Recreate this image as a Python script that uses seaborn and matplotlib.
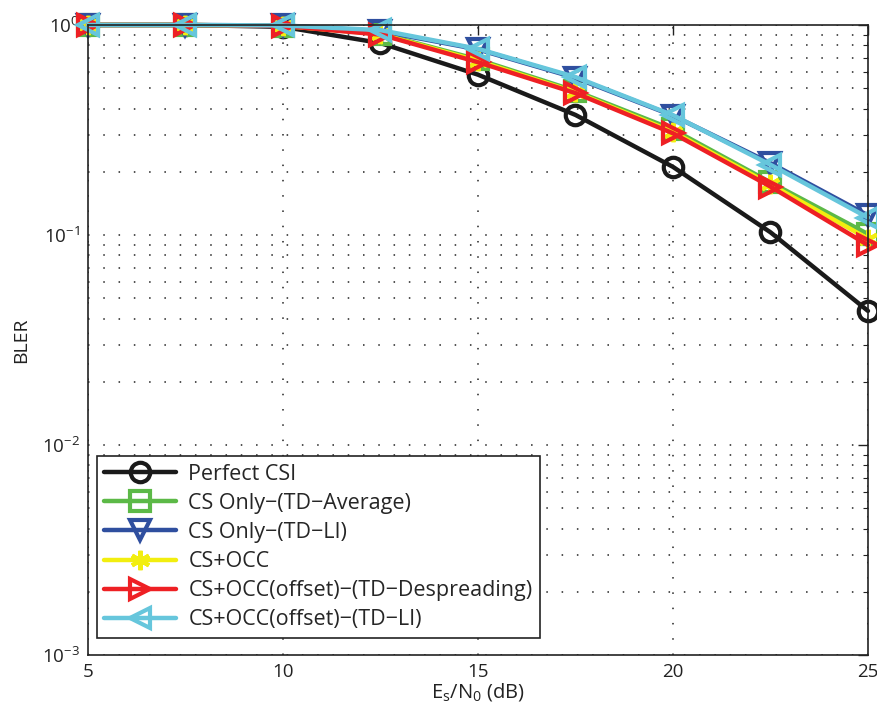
import numpy as np
import pandas as pd
import matplotlib
matplotlib.use("Agg")
import matplotlib.pyplot as plt
import seaborn as sns
from matplotlib.ticker import LogLocator, NullFormatter, MultipleLocator

# SNR points (dB)
snr_db = [5, 7.5, 10, 12.5, 15, 17.5, 20, 22.5, 25]

# BLER per channel-estimation scheme
bler_perfect = [1.0, 1.0, 0.98, 0.82, 0.58, 0.373, 0.211, 0.103, 0.0435]
bler_cs_avg = [1.0, 1.0, 0.99, 0.91, 0.685, 0.485, 0.318, 0.178, 0.101]
bler_cs_li = [1.0, 1.0, 0.995, 0.935, 0.765, 0.56, 0.37, 0.22, 0.124]
bler_occ = [1.0, 1.0, 0.99, 0.905, 0.675, 0.478, 0.31, 0.174, 0.096]
bler_occ_desp = [1.0, 1.0, 0.99, 0.90, 0.665, 0.474, 0.305, 0.17, 0.0895]
bler_occ_li = [1.0, 1.0, 0.995, 0.945, 0.77, 0.565, 0.372, 0.216, 0.121]

labels = [
    "Perfect CSI",
    "CS Only\u2212(TD\u2212Average)",
    "CS Only\u2212(TD\u2212LI)",
    "CS+OCC",
    "CS+OCC(offset)\u2212(TD\u2212Despreading)",
    "CS+OCC(offset)\u2212(TD\u2212LI)",
]
series = [bler_perfect, bler_cs_avg, bler_cs_li, bler_occ, bler_occ_desp, bler_occ_li]
colors = ["#1a1a1a", "#5cb947", "#2f4f9f", "#f2ee0f", "#ee2024", "#66c6dc"]
markers = ["o", "s", "v", (6, 2, 0), ">", "<"]

sns.set_theme(style="white")
plt.rcParams["font.family"] = ["Open Sans", "DejaVu Sans"]
plt.rcParams["mathtext.fontset"] = "custom"
plt.rcParams["mathtext.rm"] = "Open Sans"

fig = plt.figure(figsize=(8.77, 7.2), dpi=100)
ax = fig.add_axes([0.1003, 0.0903, 0.8894, 0.8750])

for vals, lab, col, mk in zip(series, labels, colors, markers):
    df = pd.DataFrame({"snr": snr_db, "bler": vals})
    sns.lineplot(
        data=df, x="snr", y="bler", ax=ax, color=col, marker=mk,
        markersize=14, markerfacecolor="none", markeredgecolor=col,
        markeredgewidth=3, linewidth=3.2, label=lab, clip_on=False,
    )

ax.set_yscale("log")
ax.set_xlim(5, 25)
ax.set_ylim(1e-3, 1)
ax.xaxis.set_major_locator(MultipleLocator(5))
ax.yaxis.set_major_locator(LogLocator(base=10, numticks=10))
ax.yaxis.set_minor_locator(LogLocator(base=10, subs=np.arange(2, 10), numticks=10))
ax.yaxis.set_minor_formatter(NullFormatter())

ax.grid(True, which="major", axis="both", color="#222222", linestyle=(0, (1, 9)), linewidth=1.1)
ax.grid(True, which="minor", axis="y", color="#222222", linestyle=(0, (1, 9)), linewidth=1.1)
ax.set_axisbelow(True)

for sp in ax.spines.values():
    sp.set_color("#222222")
    sp.set_linewidth(1.2)
ax.tick_params(which="both", direction="in", top=True, right=True, colors="#222222",
               labelcolor="#222222", labelsize=13.5)
ax.tick_params(which="major", length=7, width=1.0, pad=6)
ax.tick_params(which="minor", length=3.5, width=0.8)

ax.set_xlabel(r"E$_\mathregular{s}$/N$_\mathregular{0}$ (dB)", fontsize=14.5, color="#222222", labelpad=0)
ax.set_ylabel("BLER", fontsize=14, color="#222222", labelpad=8)

leg = ax.legend(loc="lower left", bbox_to_anchor=(0.0115, 0.027), fontsize=15.5,
                frameon=True, fancybox=False, edgecolor="#222222", framealpha=1,
                handlelength=3.3, borderpad=0.35, labelspacing=0.38, handletextpad=0.6,
                borderaxespad=0)
leg.get_frame().set_linewidth(1.2)

fig.savefig("out.png", dpi=100)
